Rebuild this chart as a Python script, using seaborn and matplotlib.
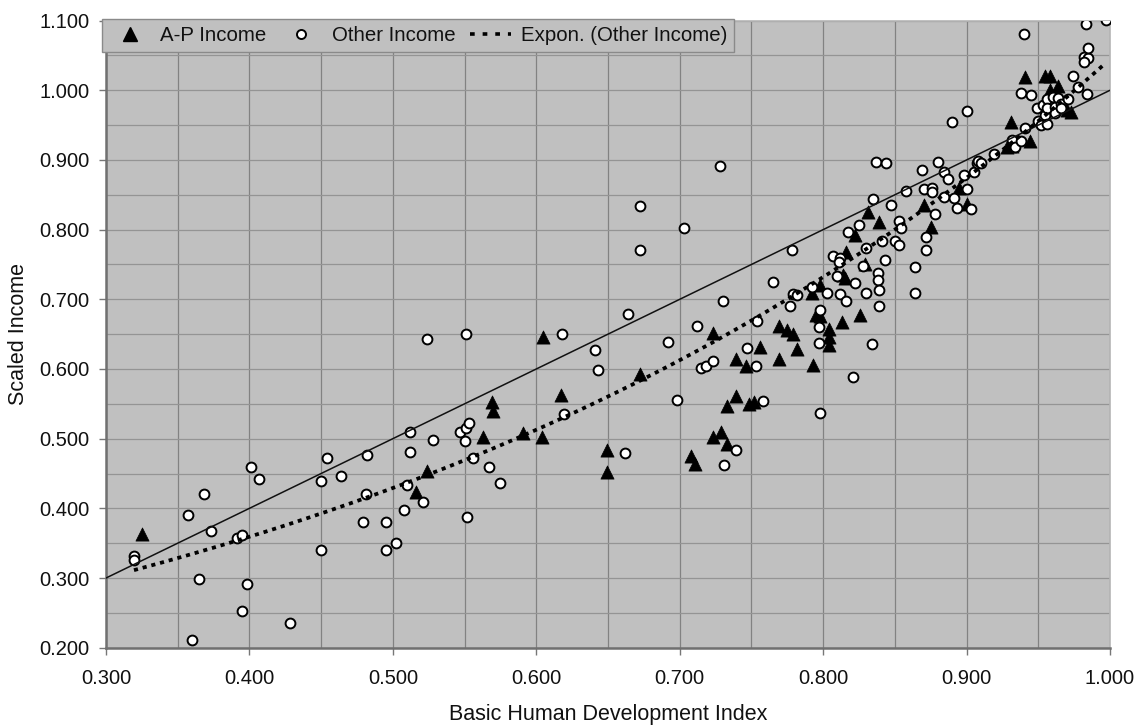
import numpy as np
import matplotlib
matplotlib.use("Agg")
import matplotlib.pyplot as plt
import seaborn as sns
from matplotlib.lines import Line2D
from matplotlib.ticker import MultipleLocator, FormatStrFormatter

# ---------------- data ----------------
ap_x = [0.325, 0.516, 0.524, 0.563, 0.569, 0.570, 0.591, 0.604, 0.605, 0.617,
        0.649, 0.649, 0.672, 0.708, 0.711, 0.723, 0.729, 0.733, 0.723, 0.733,
        0.739, 0.739, 0.746, 0.748, 0.752, 0.756, 0.769, 0.769, 0.775, 0.779,
        0.782, 0.793, 0.792, 0.798, 0.795, 0.798, 0.804, 0.804, 0.804, 0.813,
        0.826, 0.814, 0.815, 0.816, 0.829, 0.822, 0.831, 0.839, 0.870, 0.875,
        0.895, 0.900, 0.928, 0.932, 0.931, 0.944, 0.941, 0.955, 0.958, 0.964,
        0.958, 0.970, 0.973]
ap_y = [0.363, 0.424, 0.454, 0.502, 0.552, 0.540, 0.508, 0.503, 0.646, 0.563,
        0.484, 0.452, 0.593, 0.475, 0.463, 0.502, 0.510, 0.492, 0.652, 0.547,
        0.561, 0.614, 0.605, 0.550, 0.552, 0.631, 0.662, 0.614, 0.656, 0.650,
        0.628, 0.606, 0.709, 0.721, 0.678, 0.676, 0.658, 0.646, 0.635, 0.668,
        0.677, 0.735, 0.731, 0.768, 0.751, 0.793, 0.825, 0.811, 0.836, 0.804,
        0.860, 0.837, 0.918, 0.920, 0.955, 0.927, 1.019, 1.020, 1.020, 1.006,
        1.000, 0.972, 0.969]

oth_x = [0.3195, 0.3195, 0.357, 0.360, 0.365, 0.368, 0.373, 0.391, 0.395, 0.395,
         0.398, 0.401, 0.407, 0.428, 0.450, 0.450, 0.454, 0.464, 0.479, 0.481,
         0.482, 0.495, 0.495, 0.502, 0.508, 0.510, 0.512, 0.512, 0.521, 0.524,
         0.528, 0.547, 0.551, 0.553, 0.550, 0.551, 0.552, 0.556, 0.567, 0.575,
         0.618, 0.619, 0.641, 0.643, 0.662, 0.664, 0.672, 0.672, 0.692, 0.698,
         0.703, 0.712, 0.715, 0.718, 0.723, 0.728, 0.730, 0.731, 0.739, 0.747,
         0.753, 0.754, 0.758, 0.765,
         0.778, 0.777, 0.779, 0.782, 0.792, 0.797, 0.797, 0.798, 0.798, 0.803,
         0.807, 0.812, 0.811, 0.810, 0.812, 0.816, 0.817, 0.821, 0.822, 0.825,
         0.828, 0.830, 0.830, 0.834, 0.835, 0.838, 0.838, 0.839, 0.839, 0.841,
         0.843, 0.847, 0.850, 0.853, 0.853, 0.854, 0.858, 0.864, 0.864, 0.869,
         0.870, 0.872, 0.872, 0.876, 0.876, 0.878, 0.880, 0.884, 0.884, 0.887,
         0.890, 0.891, 0.893, 0.898, 0.900, 0.900, 0.903, 0.905, 0.907, 0.908,
         0.910, 0.919, 0.932, 0.934, 0.938, 0.938, 0.940, 0.941, 0.945,
         0.949, 0.950, 0.952, 0.953, 0.955, 0.956, 0.956, 0.956, 0.960, 0.962,
         0.962, 0.964, 0.966, 0.966, 0.971,
         0.974, 0.978, 0.982, 0.985, 0.982, 0.985, 0.984, 0.983, 0.997,
         0.837, 0.844]
oth_y = [0.331, 0.326, 0.390, 0.211, 0.299, 0.420, 0.367, 0.358, 0.362, 0.253,
         0.291, 0.460, 0.442, 0.235, 0.340, 0.439, 0.472, 0.446, 0.381, 0.421,
         0.477, 0.381, 0.340, 0.350, 0.397, 0.433, 0.509, 0.481, 0.409, 0.643,
         0.498, 0.509, 0.515, 0.522, 0.497, 0.650, 0.388, 0.472, 0.460, 0.436,
         0.650, 0.536, 0.627, 0.599, 0.480, 0.679, 0.834, 0.771, 0.639, 0.555,
         0.802, 0.662, 0.601, 0.604, 0.611, 0.891, 0.697, 0.462, 0.484, 0.630,
         0.605, 0.669, 0.554, 0.725,
         0.771, 0.691, 0.708, 0.706, 0.718, 0.660, 0.638, 0.685, 0.537, 0.709,
         0.762, 0.759, 0.753, 0.733, 0.707, 0.698, 0.797, 0.588, 0.723, 0.806,
         0.748, 0.774, 0.709, 0.636, 0.844, 0.738, 0.728, 0.714, 0.691, 0.783,
         0.757, 0.835, 0.784, 0.778, 0.813, 0.803, 0.856, 0.746, 0.709, 0.885,
         0.858, 0.789, 0.771, 0.860, 0.854, 0.822, 0.897, 0.882, 0.847, 0.873,
         0.955, 0.846, 0.831, 0.878, 0.970, 0.858, 0.830, 0.883, 0.895, 0.898,
         0.895, 0.908, 0.929, 0.919, 0.927, 0.996, 1.081, 0.946, 0.993,
         0.975, 0.956, 0.950, 0.979, 0.964, 0.988, 0.974, 0.952, 0.991, 0.976,
         0.967, 0.989, 0.981, 0.974, 0.988,
         1.020, 1.004, 1.048, 1.047, 1.041, 1.060, 0.995, 1.095, 1.101,
         0.897, 0.896]

diag_x = [0.3, 1.0]
diag_y = [0.3, 1.0]

x_ticks = [0.3, 0.4, 0.5, 0.6, 0.7, 0.8, 0.9, 1.0]
y_ticks = [0.2, 0.3, 0.4, 0.5, 0.6, 0.7, 0.8, 0.9, 1.0, 1.1]

labels = ["A-P Income", "Other Income", "Expon. (Other Income)"]

# ---------------- style ----------------
sns.set_style("white")
plt.rcParams['font.family'] = ['Liberation Sans', 'DejaVu Sans']
plt.rcParams['text.color'] = '#111111'
plt.rcParams['axes.labelcolor'] = '#111111'
plt.rcParams['xtick.color'] = '#111111'
plt.rcParams['ytick.color'] = '#111111'

fig = plt.figure(figsize=(11.41, 7.26), dpi=100)
fig.patch.set_facecolor('white')
ax = fig.add_axes([106 / 1141, 1 - 647.7 / 726, 1004 / 1141, 627.1 / 726])
ax.set_facecolor('#c0c0c0')

# exponential trend (least squares on ln y, as Excel does)
ox = np.array(oth_x)
oy = np.array(oth_y)
b, ln_a = np.polyfit(ox, np.log(oy), 1)
fit_x = np.linspace(ox.min(), ox.max(), 300)
fit_y = np.exp(ln_a) * np.exp(b * fit_x)

sns.scatterplot(x=ap_x, y=ap_y, marker='^', s=90, color='black',
                edgecolor='black', linewidth=0.5, ax=ax, zorder=3, legend=False)
sns.scatterplot(x=oth_x, y=oth_y, marker='o', s=50, color='white',
                edgecolor='black', linewidth=1.4, ax=ax, zorder=4, legend=False)
ax.plot(diag_x, diag_y, color='#111111', lw=1.1, zorder=5)
ax.plot(fit_x, fit_y, color='black', lw=2.7, ls=(0, (1.1, 1.3)), zorder=5,
        solid_capstyle='butt', dash_capstyle='butt')

ax.set_xlim(0.3, 1.0)
ax.set_ylim(0.2, 1.1)
ax.set_xticks(x_ticks)
ax.set_yticks(y_ticks)
ax.xaxis.set_minor_locator(MultipleLocator(0.05))
ax.yaxis.set_minor_locator(MultipleLocator(0.05))
ax.xaxis.set_major_formatter(FormatStrFormatter('%.3f'))
ax.yaxis.set_major_formatter(FormatStrFormatter('%.3f'))
ax.tick_params(which='major', direction='out', length=5, width=1, color='#777777',
               labelsize=14.5, bottom=True, left=True)
ax.tick_params(axis='x', which='major', pad=10)
ax.tick_params(axis='y', which='major', pad=7)
ax.tick_params(which='minor', length=0)
ax.grid(True, axis='x', which='both', color='#828282', lw=0.9, zorder=0)
ax.grid(True, axis='y', which='both', color='#949494', lw=0.9, zorder=0)
ax.set_axisbelow(True)

for side in ['left', 'bottom']:
    ax.spines[side].set_color('#707070')
    ax.spines[side].set_linewidth(1.8)
for side in ['top', 'right']:
    ax.spines[side].set_color('#b5b5b5')
    ax.spines[side].set_linewidth(1.2)

ax.set_xlabel("Basic Human Development Index", fontsize=15.5, labelpad=12)
ax.set_ylabel("Scaled Income", fontsize=15.5, labelpad=7)

handles = [
    Line2D([], [], marker='^', ls='none', color='black', ms=9.5),
    Line2D([], [], marker='o', ls='none', mfc='white', mec='black', ms=6.5, mew=1.4),
    Line2D([], [], color='black', lw=2.6, ls=(0, (1.3, 2.2))),
]
leg = ax.legend(handles, labels, ncol=3, loc='upper left',
                bbox_to_anchor=(-0.004, 1.003), fontsize=14.7, frameon=True,
                fancybox=False, facecolor='#c0c0c0', edgecolor='#8a8a8a',
                framealpha=1, borderpad=0.35, handlelength=2.0,
                handletextpad=0.5, columnspacing=0.7, borderaxespad=0)
leg.get_frame().set_linewidth(1.0)
leg.set_zorder(10)

fig.savefig("out.png", dpi=100, facecolor='white')
